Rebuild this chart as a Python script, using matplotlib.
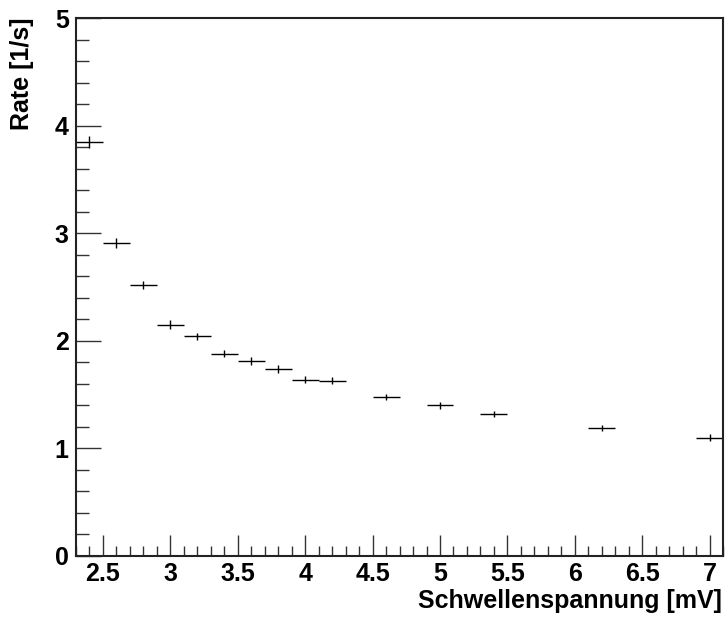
import numpy as np
import matplotlib
matplotlib.use('Agg')
import matplotlib.pyplot as plt
from matplotlib.ticker import MultipleLocator

# threshold voltage [mV] and measured rate [1/s]
threshold = [2.4, 2.6, 2.8, 3.0, 3.2, 3.4, 3.6, 3.8, 4.0, 4.2, 4.6, 5.0, 5.4, 6.2, 7.0]
rate = [3.85, 2.91, 2.52, 2.15, 2.04, 1.88, 1.81, 1.74, 1.64, 1.63, 1.48, 1.40, 1.32, 1.19, 1.10]
threshold_err = [0.1] * len(threshold)
rate_err = [0.055, 0.045, 0.04, 0.04, 0.035, 0.035, 0.035, 0.035, 0.03, 0.03,
            0.03, 0.03, 0.03, 0.03, 0.03]

plt.rcParams['font.family'] = ['Liberation Sans', 'DejaVu Sans']
plt.rcParams['font.weight'] = 'bold'

fig = plt.figure(figsize=(7.27, 6.17), dpi=100)
ax = fig.add_axes([0.1041, 0.0989, 0.8909, 0.8719])

ax.errorbar(threshold, rate, xerr=threshold_err, yerr=rate_err,
            fmt='none', ecolor='black', elinewidth=1.0, capsize=0)

ax.set_xlim(2.3, 7.1)
ax.set_ylim(0, 5)

ax.xaxis.set_major_locator(MultipleLocator(0.5))
ax.xaxis.set_minor_locator(MultipleLocator(0.1))
ax.yaxis.set_major_locator(MultipleLocator(1))
ax.yaxis.set_minor_locator(MultipleLocator(0.2))

ax.tick_params(axis='both', which='both', direction='in', top=False, right=False,
               width=1.0, color='#333333')
ax.tick_params(axis='x', which='major', length=15, pad=4, labelsize=18)
ax.tick_params(axis='x', which='minor', length=7.5)
ax.tick_params(axis='y', which='major', length=18, pad=5, labelsize=18)
ax.tick_params(axis='y', which='minor', length=9)

ax.xaxis.set_major_formatter(plt.FuncFormatter(lambda v, p: f'{v:g}'))
ax.yaxis.set_major_formatter(plt.FuncFormatter(lambda v, p: f'{v:g}'))

for s in ax.spines.values():
    s.set_linewidth(1.5)
    s.set_color('#222222')

fig.text(22.5 / 727, 1 - 18 / 617, 'Rate [1/s]', rotation=90, ha='center', va='top',
         fontsize=18, fontweight='bold')
fig.text(722 / 727, 1 - 608 / 617, 'Schwellenspannung [mV]', ha='right', va='baseline',
         fontsize=18, fontweight='bold')

fig.savefig('out.png', dpi=100)
